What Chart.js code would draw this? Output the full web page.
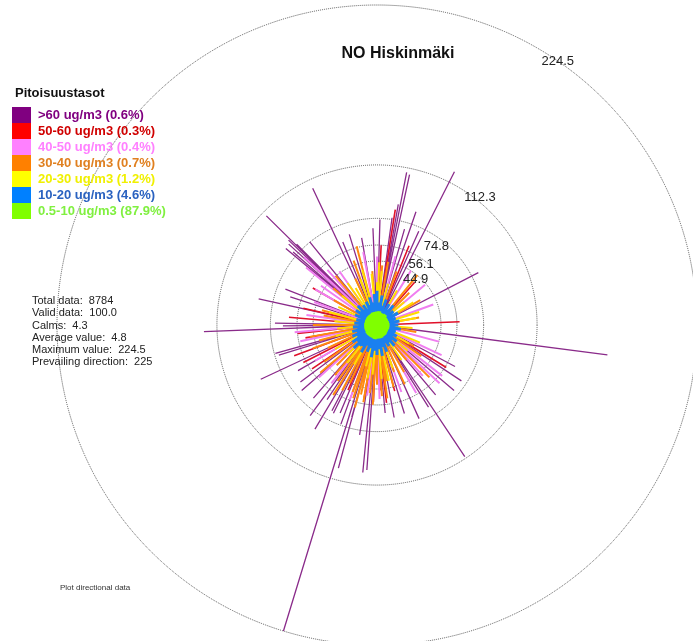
<!DOCTYPE html>
<html>
<head>
<meta charset="utf-8">
<title>NO Hiskinmäki</title>
<script src="https://cdn.jsdelivr.net/npm/chart.js@4/dist/chart.umd.min.js"></script>
<style>
  body { margin: 0; background: #fff; font-family: "Liberation Sans", Arial, sans-serif; }
  #wrap { position: relative; width: 693px; height: 641px; overflow: hidden; }
  #rose { position: absolute; left: 0; top: 0; }
  .overlay { position: absolute; white-space: pre; }
  #title { left: 398px; top: 44px; transform: translateX(-50%); font-weight: bold; font-size: 16px; color: #111; }
  #legend-title { left: 15px; top: 85px; font-weight: bold; font-size: 13px; color: #111; }
  .leg-box { position: absolute; left: 12px; width: 19px; height: 16px; }
  .leg-text { position: absolute; left: 38px; font-weight: bold; font-size: 13px; line-height: 16px; }
  #stats { left: 32px; top: 294px; font-size: 11px; line-height: 12.3px; color: #222; }
  #footer { left: 60px; top: 583px; font-size: 8px; color: #333; }
</style>
</head>
<body>
<div id="wrap">
  <canvas id="rose" width="693" height="641"></canvas>
  <div class="overlay" id="title">NO Hiskinmäki</div>
  <div class="overlay" id="legend-title">Pitoisuustasot</div>
  <div id="legend"></div>
  <div class="overlay" id="stats"></div>
  <div class="overlay" id="footer">Plot directional data</div>
</div>
<script>
// concentration classes, highest first (legend order)
const classLabels = ['>60 ug/m3 (0.6%)', '50-60 ug/m3 (0.3%)', '40-50 ug/m3 (0.4%)', '30-40 ug/m3 (0.7%)',
  '20-30 ug/m3 (1.2%)', '10-20 ug/m3 (4.6%)', '0.5-10 ug/m3 (87.9%)'];
const classColors = ['#800080', '#ff0000', '#ff80ff', '#ff8000', '#ffff00', '#0080ff', '#80ff00'];
const lineColors = ['#8a2b8a', '#e0102a', '#f07ef0', '#ff8a10', '#ffdc00', '#1a80f0', '#80ff00'];
const classTextColors = ['#800080', '#d00000', '#ff80ff', '#e08020', '#f0f000', '#2a62c0', '#80f040'];
const classLineWidths = [1.3, 1.6, 2, 2, 2, 3, 4];

// dotted rings and their labels
const ringValues = [44.9, 56.1, 74.8, 112.3, 224.5];
const ringLabelAngle = [40, 36, 37, 39, 34.4];
const ringLabelShift = [-4, -5, -8, 3.5, 0];

const statLines = ['Total data:  8784', 'Valid data:  100.0', 'Calms:  4.3', 'Average value:  4.8',
  'Maximum value:  224.5', 'Prevailing direction:  225'];

// spikes per class: direction (deg from north, clockwise) and concentration
const dirOver60 = [334.8, 314.6, 313.8, 312.5, 315.2, 311, 310, 343, 337.6, 357.6, 291.4, 282.4, 267.8, 271, 269.5,
  245, 254.4, 253, 97.4, 62.7, 26.8, 11, 12.2, 10, 19, 1.6, 24, 146.3, 123.5, 130.4, 147.9, 155.8, 162.8, 169.5,
  174.7, 233.3, 221, 216.4, 213.8, 210.8, 207.7, 206.3, 202.7, 195.1, 197, 185.5, 184, 195.3, 321, 8, 16, 350,
  288, 240, 229, 200, 189, 140, 118];
const valOver60 = [106, 109, 86, 84, 80, 78, 83.5, 66.5, 63, 68, 69, 85, 121.5, 71.6, 66,
  90, 74, 72, 163, 80, 120.5, 109, 108, 86, 84, 74, 72, 111, 71, 71, 68, 72, 65, 66,
  62, 67, 68, 79, 63, 85, 68, 69, 67, 104, 224.5, 104, 102, 67, 75, 76, 70, 62,
  64, 64, 70, 74, 78, 64, 62];

const dir50to60 = [87.7, 121.5, 249.6, 259.8, 182.7, 9, 275, 282.8, 177.4, 173, 41.3, 236, 243, 264, 190, 204,
  165, 22, 3, 300];
const val50to60 = [58, 57, 62, 51, 54, 82, 62, 53, 46, 55, 40, 55, 58, 56, 52, 50,
  48, 60, 56, 52];

const dir40to50 = [300, 305, 318, 325, 349.3, 0, 15, 32, 50, 70, 105, 115, 138, 150, 160, 178, 188, 200, 218,
  228, 240, 258, 265, 278, 290, 313, 309, 128, 133];
const val40to50 = [50, 48, 52, 46, 52, 48, 50, 45, 44, 42, 45, 50, 48, 55, 50, 52, 50, 56, 52,
  55, 50, 55, 58, 50, 47, 70, 64, 58, 60];

const dir30to40 = [345.5, 39, 135, 190, 200, 205, 215, 225, 235, 245, 180, 170, 160, 150, 140, 120, 100, 80, 60,
  45, 20, 5, 355, 335, 320, 300, 285, 270, 255, 260, 230, 212, 195, 186, 176,
  165, 172, 183, 193, 198, 208, 220, 250, 280, 310, 340, 10, 125, 155];
const val30to40 = [57, 45, 52, 55, 50, 45, 48, 40, 45, 38, 42, 40, 35, 38, 32, 30, 28, 30, 35,
  32, 40, 42, 38, 36, 45, 35, 40, 45, 42, 48, 52, 58, 60, 48, 50,
  45, 52, 56, 50, 54, 52, 46, 48, 38, 40, 48, 45, 38, 46];

const dir20to30 = [72.8, 112.3, 354, 285, 295, 310, 330, 345, 5, 15, 30, 50, 80, 95, 130, 145, 160, 175, 185,
  195, 210, 225, 240, 255, 265, 275, 58, 120, 340, 0, 2, 168, 190, 218, 325];
const val20to30 = [31, 32.6, 36, 35, 30, 32, 30, 40, 38, 30, 28, 25, 28, 25, 28, 30, 32, 38, 35,
  30, 32, 30, 34, 30, 28, 30, 30, 26, 34, 30, 44, 40, 38, 34, 36];

const dir10to20 = [0, 5, 10, 15, 20, 25, 30, 35, 40, 45, 50, 55, 60, 65, 70, 75, 80, 85, 90, 95, 100, 105, 110, 115,
  120, 125, 130, 135, 140, 145, 150, 155, 160, 165, 170, 175, 180, 185, 190, 195, 200, 205, 210, 215, 220, 225,
  230, 235, 240, 245, 250, 255, 260, 265, 270, 275, 280, 285, 290, 295, 300, 305, 310, 315, 320, 325, 330, 335,
  340, 345, 350, 355];
const val10to20 = [24, 16, 21, 14, 19, 12, 17, 13, 18, 11, 15, 13, 17, 11, 14, 12, 16, 13, 15, 11, 17, 12, 14, 12,
  16, 13, 18, 14, 19, 15, 17, 14, 20, 16, 22, 17, 21, 18, 23, 17, 20, 16, 22, 18, 19, 23,
  18, 21, 16, 19, 15, 18, 14, 17, 13, 16, 12, 15, 13, 17, 14, 18, 15, 19, 14, 17, 13, 18,
  15, 20, 16, 22];

const dir05to10 = [0, 5, 10, 15, 20, 25, 30, 35, 40, 45, 50, 55, 60, 65, 70, 75, 80, 85, 90, 95, 100, 105, 110, 115,
  120, 125, 130, 135, 140, 145, 150, 155, 160, 165, 170, 175, 180, 185, 190, 195, 200, 205, 210, 215, 220, 225,
  230, 235, 240, 245, 250, 255, 260, 265, 270, 275, 280, 285, 290, 295, 300, 305, 310, 315, 320, 325, 330, 335,
  340, 345, 350, 355];
const val05to10 = [9.5, 8, 9.8, 7.6, 9, 7.2, 8.8, 7.4, 9.4, 7, 8.4, 7.2, 8.2, 6.8, 8.4, 7.2, 8.6, 7, 8.8, 7.4, 8.8, 7, 8.6, 7.2,
  8.4, 7.6, 8.8, 7.8, 9.2, 8, 9.2, 8.4, 9.6, 8.2, 9.6, 8.6, 9.6, 8.4, 10, 8.8, 9.6, 8.6, 9.6, 8.2, 9.6, 8.8,
  9.6, 8.4, 9.2, 7.8, 9.2, 7.6, 9, 7.6, 9, 7.4, 8.8, 7.6, 8.8, 7.2, 8.6, 7.8, 9, 7.6, 9, 8, 9, 8.2,
  9.4, 8, 9.4, 8.4];

const spikeDirs = [dirOver60, dir50to60, dir40to50, dir30to40, dir20to30, dir10to20, dir05to10];
const spikeVals = [valOver60, val50to60, val40to50, val30to40, val20to30, val10to20, val05to10];

// plot geometry
const W = 693, H = 641;
const centerX = 377, centerY = 325, outerRadius = 320;
const maxRing = ringValues[ringValues.length - 1];
const pxPerUnit = outerRadius / maxRing;

// each spike is a segment from the origin, broken by a null point
function spikePoints(dirs, vals) {
  const pts = [];
  dirs.forEach((d, i) => {
    const a = d * Math.PI / 180;
    pts.push({ x: 0, y: 0 });
    pts.push({ x: vals[i] * Math.sin(a), y: vals[i] * Math.cos(a) });
    pts.push({ x: 0, y: null });
  });
  return pts;
}

const datasets = classLabels.map((label, i) => ({
  label: label,
  data: spikePoints(spikeDirs[i], spikeVals[i]),
  showLine: true,
  spanGaps: false,
  borderColor: lineColors[i],
  borderWidth: classLineWidths[i],
  borderCapStyle: 'butt',
  pointRadius: 0,
  order: classLabels.length - i   // lowest class drawn on top
}));

const ringPlugin = {
  id: 'rings',
  beforeDatasetsDraw(chart) {
    const xs = chart.scales.x, ys = chart.scales.y;
    const ox = xs.getPixelForValue(0), oy = ys.getPixelForValue(0);
    const ctx = chart.ctx;
    ctx.save();
    ctx.strokeStyle = '#555';
    ctx.lineWidth = 1;
    ctx.setLineDash([1, 1]);
    ringValues.forEach(v => {
      const r = xs.getPixelForValue(v) - ox;
      ctx.beginPath();
      ctx.arc(ox, oy, r, 0, Math.PI * 2);
      ctx.stroke();
    });
    ctx.restore();
  },
  afterDatasetsDraw(chart) {
    const xs = chart.scales.x, ys = chart.scales.y;
    const ox = xs.getPixelForValue(0), oy = ys.getPixelForValue(0);
    const ctx = chart.ctx;
    ctx.save();
    ctx.font = '13px "Liberation Sans", Arial, sans-serif';
    ctx.fillStyle = '#222';
    ctx.textAlign = 'center';
    ctx.textBaseline = 'middle';
    ringValues.forEach((v, i) => {
      const a = ringLabelAngle[i] * Math.PI / 180;
      const r = xs.getPixelForValue(v) - ox + ringLabelShift[i];
      ctx.fillText(v.toFixed(1), ox + r * Math.sin(a), oy - r * Math.cos(a));
    });
    ctx.restore();
  }
};

new Chart(document.getElementById('rose'), {
  type: 'scatter',
  data: { datasets: datasets },
  options: {
    responsive: false,
    animation: false,
    devicePixelRatio: 1,
    layout: { padding: 0 },
    plugins: { legend: { display: false }, tooltip: { enabled: false } },
    scales: {
      x: { type: 'linear', display: false, min: -centerX / pxPerUnit, max: (W - centerX) / pxPerUnit },
      y: { type: 'linear', display: false, min: -(H - centerY) / pxPerUnit, max: centerY / pxPerUnit }
    }
  },
  plugins: [ringPlugin]
});

// legend and summary text
const legend = document.getElementById('legend');
classLabels.forEach((label, i) => {
  const top = 107 + i * 16;
  const box = document.createElement('div');
  box.className = 'leg-box';
  box.style.top = top + 'px';
  box.style.background = classColors[i];
  legend.appendChild(box);
  const txt = document.createElement('div');
  txt.className = 'leg-text';
  txt.style.top = top + 'px';
  txt.style.color = classTextColors[i];
  txt.textContent = label;
  legend.appendChild(txt);
});
document.getElementById('stats').textContent = statLines.join('\n');
</script>
</body>
</html>
